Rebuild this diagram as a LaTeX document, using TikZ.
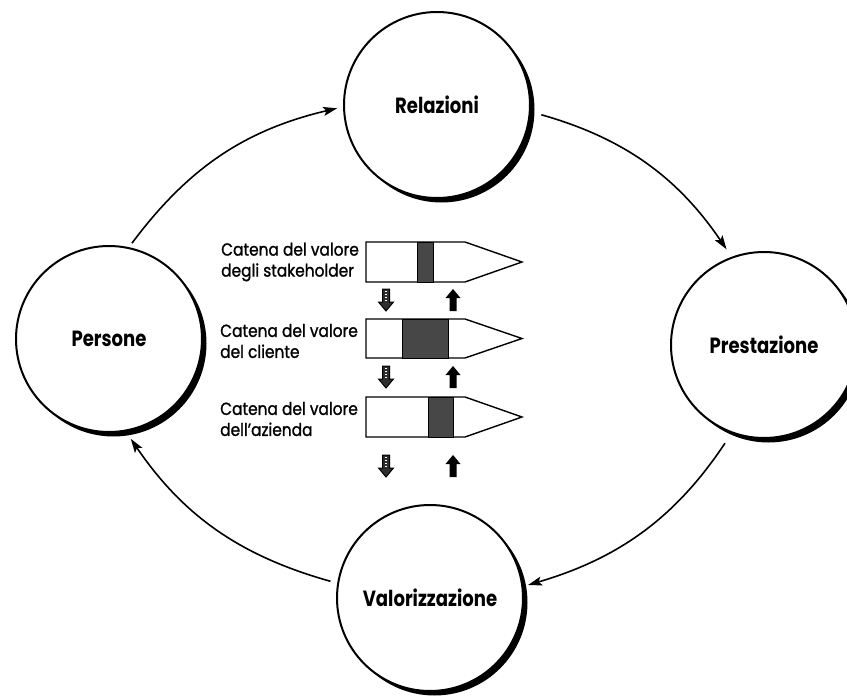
\documentclass[tikz,border=0pt]{standalone}
\usepackage{fontspec}
\newfontfamily\cyclefont[FakeStretch=0.82]{Poppins}
\newfontfamily\chainfont[FakeStretch=0.88,FakeBold=1.2]{Poppins}
\usetikzlibrary{arrows.meta,shadows}

\tikzset{
  hub/.style={circle, draw=black, line width=2pt, fill=white,
    minimum size=186pt, inner sep=0pt, outer sep=0pt,
    drop shadow={shadow xshift=4.5pt, shadow yshift=-4.5pt, opacity=1, fill=black},
    font=\cyclefont\bfseries\fontsize{22}{25}\selectfont},
  flow/.style={line width=1.6pt, bend left=20,
    -{Stealth[length=14pt,width=9pt,inset=3pt]}},
  chainlbl/.style={anchor=west, align=left, inner sep=0pt,
    font=\chainfont\fontsize{17.5}{21}\selectfont},
  chainbox/.style={draw=black, line width=1.4pt, fill=white, line join=miter},
  chainband/.style={fill=black!72, draw=black, line width=1pt},
  pics/downarrow/.style={code={
    \filldraw[black!82, draw=black, line width=1pt]
      (-3.5,0) -- (-3.5,-13) -- (-7.5,-13) -- (0,-22) -- (7.5,-13) -- (3.5,-13) -- (3.5,0) -- cycle;
    \draw[white, line width=1.1pt, dash pattern=on 1.1pt off 1.8pt] (0,-2) -- (0,-13);
  }},
  pics/uparrow/.style={code={
    \fill[black]
      (-3.5,0) -- (-3.5,13) -- (-7.5,13) -- (0,22) -- (7.5,13) -- (3.5,13) -- (3.5,0) -- cycle;
  }},
}

\begin{document}
\begin{tikzpicture}[x=1pt,y=1pt]
  \useasboundingbox (0,0) rectangle (847,-696);
  \fill[white] (0,0) rectangle (847,-696);

  % the four stages of the cycle
  \node[hub] (rel) at (437,-105) {Relazioni};
  \node[hub] (pre) at (764,-345) {Prestazione};
  \node[hub] (val) at (430,-598) {Valorizzazione};
  \node[hub] (per) at (109,-339) {Persone};

  % clockwise flow between the stages
  \draw[flow, shorten <=6pt, shorten >=7pt]  (per.78)   to (rel.181);
  \draw[flow, shorten <=12pt, shorten >=10pt] (rel.-4)   to (pre.110);
  \draw[flow, shorten <=13pt, shorten >=6pt]  (pre.-110) to (val.7);
  \draw[flow, shorten <=8pt, shorten >=10pt]  (val.171)  to (per.-80);

  % three value chains
  \draw[chainbox] (366,-242) -- (465,-242) -- (522,-262) -- (465,-282) -- (366,-282) -- cycle;
  \draw[chainband] (417,-242) rectangle (433,-282);
  \node[chainlbl] (c1) at (221,-262) {Catena del valore\\degli stakeholder};

  \draw[chainbox] (366,-319) -- (465,-319) -- (522,-338.5) -- (465,-358) -- (366,-358) -- cycle;
  \draw[chainband] (402,-319) rectangle (448,-358);
  \node[chainlbl] (c2) at (220,-341) {Catena del valore\\del cliente};

  \draw[chainbox] (366,-397) -- (465,-397) -- (522,-417) -- (465,-437) -- (366,-437) -- cycle;
  \draw[chainband] (428,-397) rectangle (453,-437);
  \node[chainlbl] (c3) at (220,-419) {Catena del valore\\dell’azienda};

  % exchanges between the chains
  \pic at (386,-289) {downarrow};
  \pic at (453,-311) {uparrow};
  \pic at (386,-366) {downarrow};
  \pic at (453,-388) {uparrow};
  \pic at (386,-455) {downarrow};
  \pic at (453,-477) {uparrow};
\end{tikzpicture}
\end{document}
